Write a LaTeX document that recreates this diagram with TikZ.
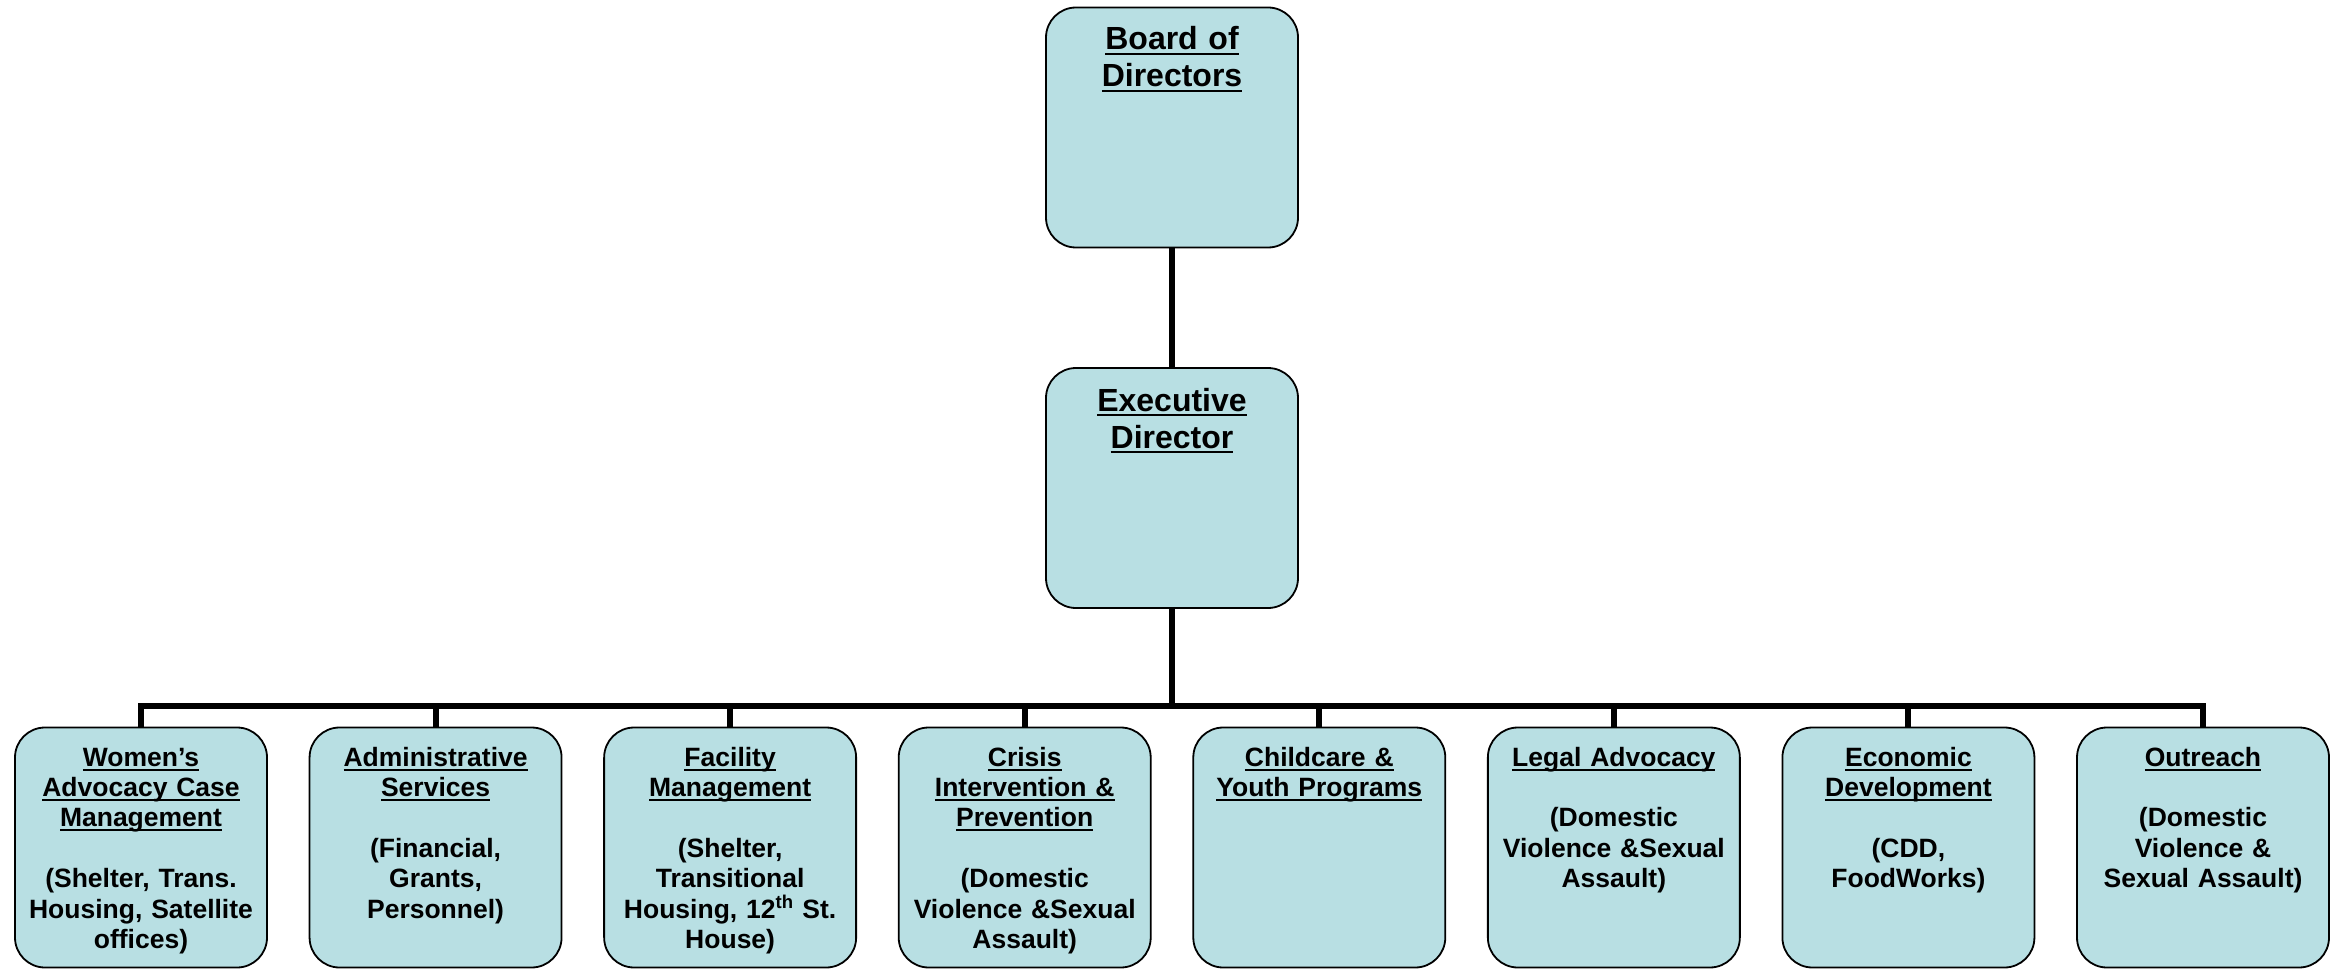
\documentclass[tikz,border=0pt]{standalone}
\usepackage{fontspec}
\setmainfont{Liberation Sans}
\definecolor{boxfill}{HTML}{B8DFE3}
\newcommand{\undl}[1]{\leavevmode\setbox0=\hbox{#1}\rlap{\rule[-0.17em]{\wd0}{0.075em}}\box0}
\begin{document}
\begin{tikzpicture}[x=1pt,y=-1pt,
  box/.style={draw=black, line width=1.8pt, fill=boxfill, rounded corners=30pt,
    minimum width=252pt, minimum height=240pt, inner sep=0pt},
  toptext/.style={anchor=base, align=center, text width=245pt, inner sep=0pt,
    font=\bfseries\fontsize{32}{37}\selectfont},
  subtext/.style={anchor=base, align=center, text width=248pt, inner sep=0pt,
    font=\bfseries\fontsize{26.5}{30.4}\selectfont},
  conn/.style={line width=6pt, line join=miter}]
\useasboundingbox (0,0) rectangle (2346,971);

% top boxes
\node[box] (board) at (1172,127.5) {};
\node[toptext] (boardt) at (1172,50) {\undl{Board of}\\\undl{Directors}};
\node[box] (exec) at (1172,488) {};
\node[toptext] (exect) at (1172,411) {\undl{Executive}\\\undl{Director}};

% bottom boxes
\foreach \i in {1,...,8} {
  \node[box] (b\i) at ({141+(\i-1)*294.57},847.5) {};
}
\node[subtext] (t1) at (141,766) {\undl{Women’s}\\\undl{Advocacy Case}\\\undl{Management}\\[30.4pt](Shelter, Trans.\\Housing, Satellite\\offices)};
\node[subtext] (t2) at (435.57,766) {\undl{Administrative}\\\undl{Services}\\[30.4pt](Financial,\\Grants,\\Personnel)};
\node[subtext] (t3) at (730.14,766) {\undl{Facility}\\\undl{Management}\\[30.4pt](Shelter,\\Transitional\\Housing, 12\textsuperscript{th} St.\\House)};
\node[subtext] (t4) at (1024.71,766) {\undl{Crisis}\\\undl{Intervention \&}\\\undl{Prevention}\\[30.4pt](Domestic\\Violence \&Sexual\\Assault)};
\node[subtext] (t5) at (1319.28,766) {\undl{Childcare \&}\\\undl{Youth Programs}};
\node[subtext] (t6) at (1613.85,766) {\undl{Legal Advocacy}\\[30.4pt](Domestic\\Violence \&Sexual\\Assault)};
\node[subtext] (t7) at (1908.42,766) {\undl{Economic}\\\undl{Development}\\[30.4pt](CDD,\\FoodWorks)};
\node[subtext] (t8) at (2203,766) {\undl{Outreach}\\[30.4pt](Domestic\\Violence \&\\Sexual Assault)};

% connectors
\coordinate (bus) at (1172,706);
\draw[conn] (board.south) -- (exec.north);
\draw[conn] (exec.south) -- (bus);
\draw[conn] (b1.north) |- (bus) -| (b8.north);
\foreach \i in {2,...,7} {
  \draw[conn] (b\i.north) -- (b\i.north |- bus);
}
\end{tikzpicture}
\end{document}
